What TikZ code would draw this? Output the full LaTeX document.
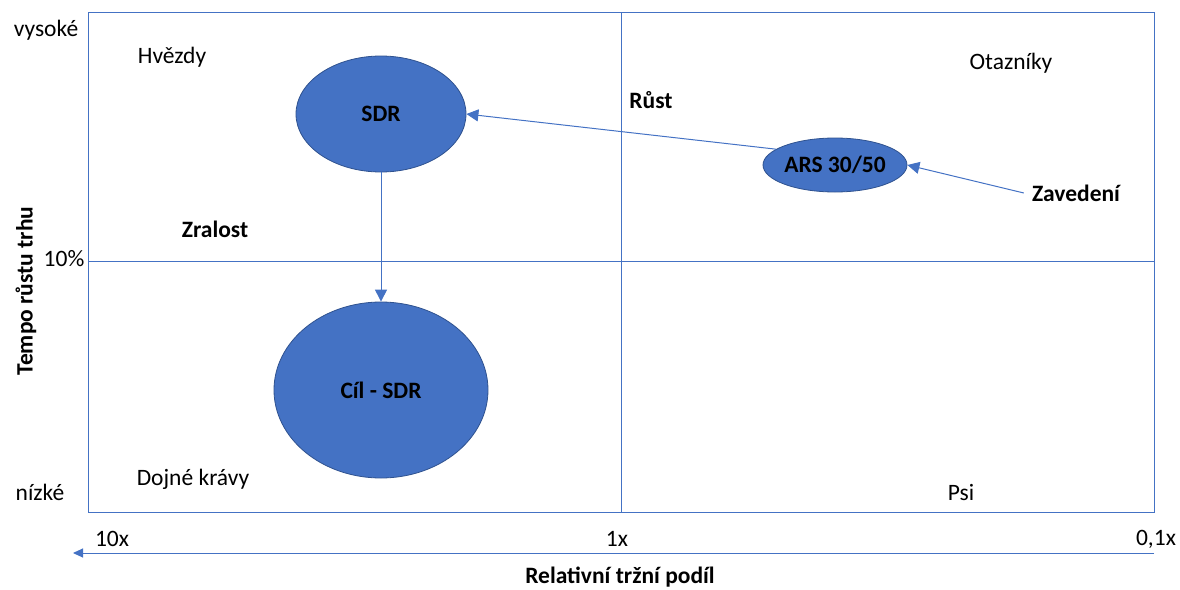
\documentclass[tikz,border=0pt]{standalone}
\usepackage{fontspec}
\setmainfont{Carlito}
\usetikzlibrary{shapes.geometric,arrows.meta}
\definecolor{lineblue}{HTML}{4472C4}
\definecolor{edgeblue}{HTML}{2F528F}
\tikzset{
  lbl/.style={inner sep=0pt, font=\fontsize{23.5}{27}\selectfont, text=black},
  blbl/.style={lbl, font=\fontsize{23.5}{27}\selectfont\bfseries},
  bubble/.style={ellipse, fill=lineblue, draw=edgeblue, line width=0.8pt, inner sep=0pt, font=\fontsize{23.5}{27}\selectfont\bfseries, text=black},
  axisline/.style={draw=lineblue, line width=1pt},
  flow/.style={draw=lineblue, line width=1pt, -{Triangle[length=12pt,width=12pt]}},
}
\begin{document}
\begin{tikzpicture}[x=1pt,y=-1pt]
\useasboundingbox (0,0) rectangle (1180,589);
% frame and quadrant lines
\draw[axisline] (88,12) rectangle (1154,512);
\coordinate (vtop) at (621,12);
\coordinate (vbot) at (621,512);
\coordinate (hl) at (88,261);
\coordinate (hr) at (1154,261);
\draw[axisline] (vtop) -- (vbot);
\draw[axisline] (hl) -- (hr);
% bottom axis arrow
\coordinate (axr) at (1154,553);
\coordinate (axl) at (73,553);
\draw[draw=lineblue, line width=1pt, -{Triangle[length=10pt,width=9pt]}] (axr) -- (axl);
% labels
\node[lbl] (vys) at (46,30) {vysoké};
\node[lbl] (hve) at (172,57) {Hvězdy};
\node[lbl] (ota) at (1011,63) {Otazníky};
\node[blbl] (rust) at (651,100) {Růst};
\node[blbl] (zav) at (1076,193) {Zavedení};
\node[blbl] (zra) at (215,229) {Zralost};
\node[lbl] (ten) at (64,259) {10\%};
\node[lbl] (niz) at (40,492) {nízké};
\node[lbl] (doj) at (193,479) {Dojné krávy};
\node[lbl] (psi) at (961,492) {Psi};
\node[lbl] (tx10) at (112,539) {10x};
\node[lbl] (tx1) at (617,539) {1x};
\node[lbl] (tx01) at (1156,539) {0,1x};
\node[blbl] (xlab) at (620,577) {Relativní tržní podíl};
\node[blbl, rotate=90] (ylab) at (26,291) {Tempo růstu trhu};
% bubbles
\node[bubble, minimum width=170pt, minimum height=116pt] (sdr) at (381,114) {SDR};
\node[bubble, minimum width=144pt, minimum height=54pt] (ars) at (835,165) {ARS 30/50};
\node[bubble, minimum width=214pt, minimum height=176pt] (cil) at (381,390) {Cíl - SDR};
% connectors
\draw[flow] ([xshift=-8pt]zav.west) -- (ars.east);
\draw[flow] (ars.165) -- (sdr.east);
\draw[flow] (sdr.south) -- (cil.north);
\end{tikzpicture}
\end{document}
